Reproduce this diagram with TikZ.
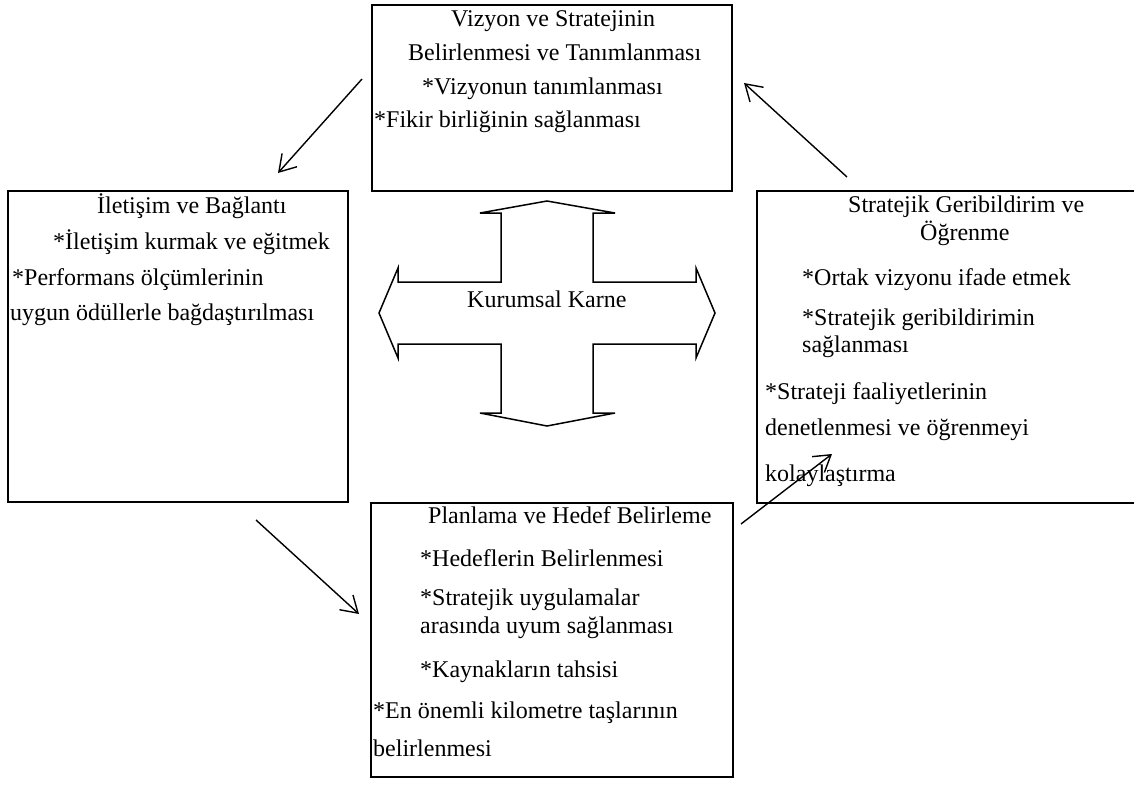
\documentclass[tikz,border=0pt]{standalone}
\usepackage{fontspec}
\setmainfont{Liberation Serif}
\usetikzlibrary{arrows.meta}

\tikzset{
  kutu/.style={draw, line width=2pt, inner sep=0pt},
  satir/.style={anchor=base west, inner sep=0pt},
  ok/.style={line width=1.4pt, -{Straight Barb[length=16pt,width=20pt]}}
}

\begin{document}
\begin{tikzpicture}[x=1pt,y=-1pt,font=\fontsize{24}{28}\selectfont]
\useasboundingbox (0,0) rectangle (1134,789);
% boxes
\node [kutu, minimum width=360pt, minimum height=186pt] (vizyon) at (552,98) {};
\node [kutu, minimum width=340pt, minimum height=311pt] (iletisim) at (178,346.5) {};
\node [kutu, minimum width=379pt, minimum height=312pt] (geri) at (946.5,347) {};
\node [kutu, minimum width=362pt, minimum height=274pt] (plan) at (552,640) {};
% top box
\node [satir] (v1) at (451,27) {Vizyon ve Stratejinin};
\node [satir] (v2) at (408,61) {Belirlenmesi ve Tanımlanması};
\node [satir] (v3) at (422,95) {*Vizyonun tanımlanması};
\node [satir] (v4) at (374,128) {*Fikir birliğinin sağlanması};
% left box
\node [satir] (i1) at (97,213) {İletişim ve Bağlantı};
\node [satir] (i2) at (53,249) {*İletişim kurmak ve eğitmek};
\node [satir] (i3) at (12,285) {*Performans ölçümlerinin};
\node [satir] (i4) at (10,320) {uygun ödüllerle bağdaştırılması};
% right box
\node [satir] (g1) at (848,212) {Stratejik Geribildirim ve};
\node [satir] (g2) at (920,240) {Öğrenme};
\node [satir] (g3) at (802,285) {*Ortak vizyonu ifade etmek};
\node [satir] (g4) at (802,325) {*Stratejik geribildirimin};
\node [satir] (g5) at (802,352) {sağlanması};
\node [satir] (g6) at (765,399) {*Strateji faaliyetlerinin};
\node [satir] (g7) at (765,435) {denetlenmesi ve öğrenmeyi};
\node [satir] (g8) at (765,481) {kolaylaştırma};
% bottom box
\node [satir] (p1) at (428,523) {Planlama ve Hedef Belirleme};
\node [satir] (p2) at (420,566) {*Hedeflerin Belirlenmesi};
\node [satir] (p3) at (420,605) {*Stratejik uygulamalar};
\node [satir] (p4) at (420,633) {arasında uyum sağlanması};
\node [satir] (p5) at (420,677) {*Kaynakların tahsisi};
\node [satir] (p6) at (373,718) {*En önemli kilometre taşlarının};
\node [satir] (p7) at (373,756) {belirlenmesi};
% cross arrow
\draw [line width=1.5pt, line join=miter] (547,201) -- (615,213) -- (593,213) -- (593,282)
  -- (696,282) -- (696,268) -- (715,313) -- (696,358) -- (696,344) -- (593,344)
  -- (593,413) -- (615,413) -- (547,426) -- (480,413) -- (501,413) -- (501,344)
  -- (398,344) -- (398,358) -- (379,313) -- (398,268) -- (398,282) -- (501,282)
  -- (501,213) -- (480,213) -- cycle;
\node [satir] (karne) at (467,307) {Kurumsal Karne};
% arrows
\coordinate (a1) at (362,79);  \coordinate (b1) at (278,173);
\coordinate (a2) at (847,177); \coordinate (b2) at (744,83);
\coordinate (a3) at (256,520); \coordinate (b3) at (359,614);
\coordinate (a4) at (741,524); \coordinate (b4) at (832,454);
\draw [ok] (a1) -- (b1);
\draw [ok] (a2) -- (b2);
\draw [ok] (a3) -- (b3);
\draw [ok] (a4) -- (b4);
\end{tikzpicture}
\end{document}
